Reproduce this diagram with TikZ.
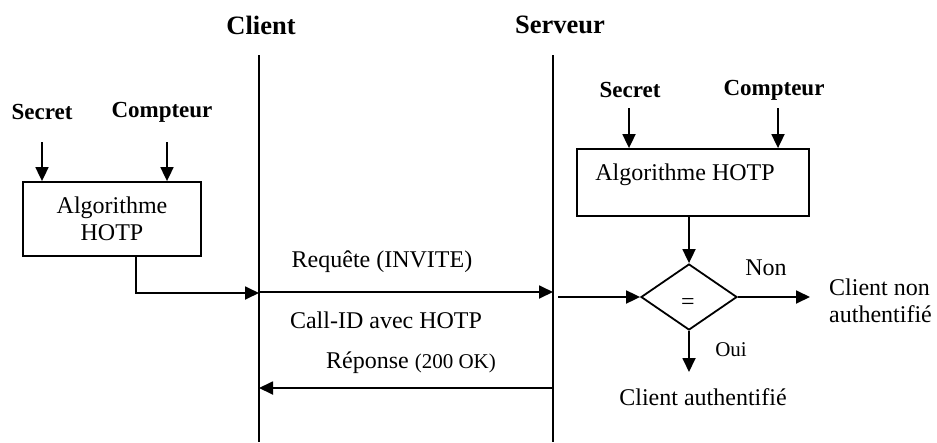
\documentclass[tikz,border=0pt]{standalone}
\usepackage{fontspec}
\setmainfont{Liberation Serif}
\usetikzlibrary{arrows.meta,shapes.geometric}
\begin{document}
\begin{tikzpicture}[x=1pt,y=-1pt,
  ln/.style={line width=1.8pt},
  arr/.style={ln,-{Triangle[length=14pt,width=13pt]}},
  txt/.style={font=\fontsize{24}{27}\selectfont,inner sep=0pt},
  hdr/.style={font=\fontsize{26.5}{30}\selectfont\bfseries,inner sep=0pt},
  lbl/.style={font=\fontsize{23}{27}\selectfont\bfseries,inner sep=0pt},
  boxst/.style={draw,ln,rectangle,inner sep=0pt}]
\useasboundingbox (0,0) rectangle (937,442);
% headers and lifelines
\node[hdr] (client) at (261,25) {Client};
\node[hdr] (serveur) at (560,25) {Serveur};
\coordinate (ctop) at (259,55); \coordinate (cbot) at (259,442);
\coordinate (stop) at (553,55); \coordinate (sbot) at (553,442);
\draw[ln] (ctop) -- (cbot);
\draw[ln] (stop) -- (sbot);
% left (client) HOTP
\node[lbl] (secL) at (42,112) {Secret};
\node[lbl] (cptL) at (162,112) {Compteur};
\node[txt,boxst,minimum width=178pt,minimum height=74pt,align=center] (boxL) at (112,219) {Algorithme\\HOTP};
\coordinate (secLa) at (42,142);
\coordinate (cptLa) at (167,142);
\draw[arr] (secLa) -- (secLa |- boxL.north);
\draw[arr] (cptLa) -- (cptLa |- boxL.north);
\coordinate (bend) at (136,293);
\draw[arr] (boxL.south -| bend) -- (bend) -- (bend -| ctop);
% messages
\coordinate (reqS) at (259,292);
\draw[arr] (reqS) -- (reqS -| stop);
\coordinate (repS) at (553,388);
\draw[arr] (repS) -- (repS -| ctop);
\node[txt] (req) at (382,262) {Requête (INVITE)};
\node[txt] (callid) at (386,320) {Call-ID avec HOTP};
\node[txt] (rep) at (411,363) {Réponse {\fontsize{21}{24}\selectfont(200 OK)}};
% right (server) HOTP
\node[lbl] (secR) at (630,90) {Secret};
\node[lbl] (cptR) at (774,90) {Compteur};
\node[boxst,minimum width=232pt,minimum height=67pt] (boxR) at (693,182.5) {};
\node[txt] (algR) at (685,175) {Algorithme HOTP};
\coordinate (secRa) at (629,108);
\coordinate (cptRa) at (778,108);
\draw[arr] (secRa) -- (secRa |- boxR.north);
\draw[arr] (cptRa) -- (cptRa |- boxR.north);
\node[draw,ln,diamond,minimum width=96pt,minimum height=66pt,inner sep=0pt] (dec) at (689,297) {};
\node[txt] (eq) at (688,304) {=};
\draw[arr] (dec.north |- boxR.south) -- (dec.north);
\coordinate (din) at (558,297);
\draw[arr] (din) -- (dec.west);
\coordinate (nonEnd) at (810,297);
\draw[arr] (dec.east) -- (nonEnd);
\node[txt] (non) at (766,268) {Non};
\node[txt,align=left,anchor=west] (cnon) at (829,301) {Client non\\authentifié};
\coordinate (ouiEnd) at (689,372);
\draw[arr] (dec.south) -- (ouiEnd);
\node[font=\fontsize{21}{24}\selectfont,inner sep=0pt] (oui) at (731,350) {Oui};
\node[txt] (cauth) at (703,397) {Client authentifié};
\end{tikzpicture}
\end{document}
